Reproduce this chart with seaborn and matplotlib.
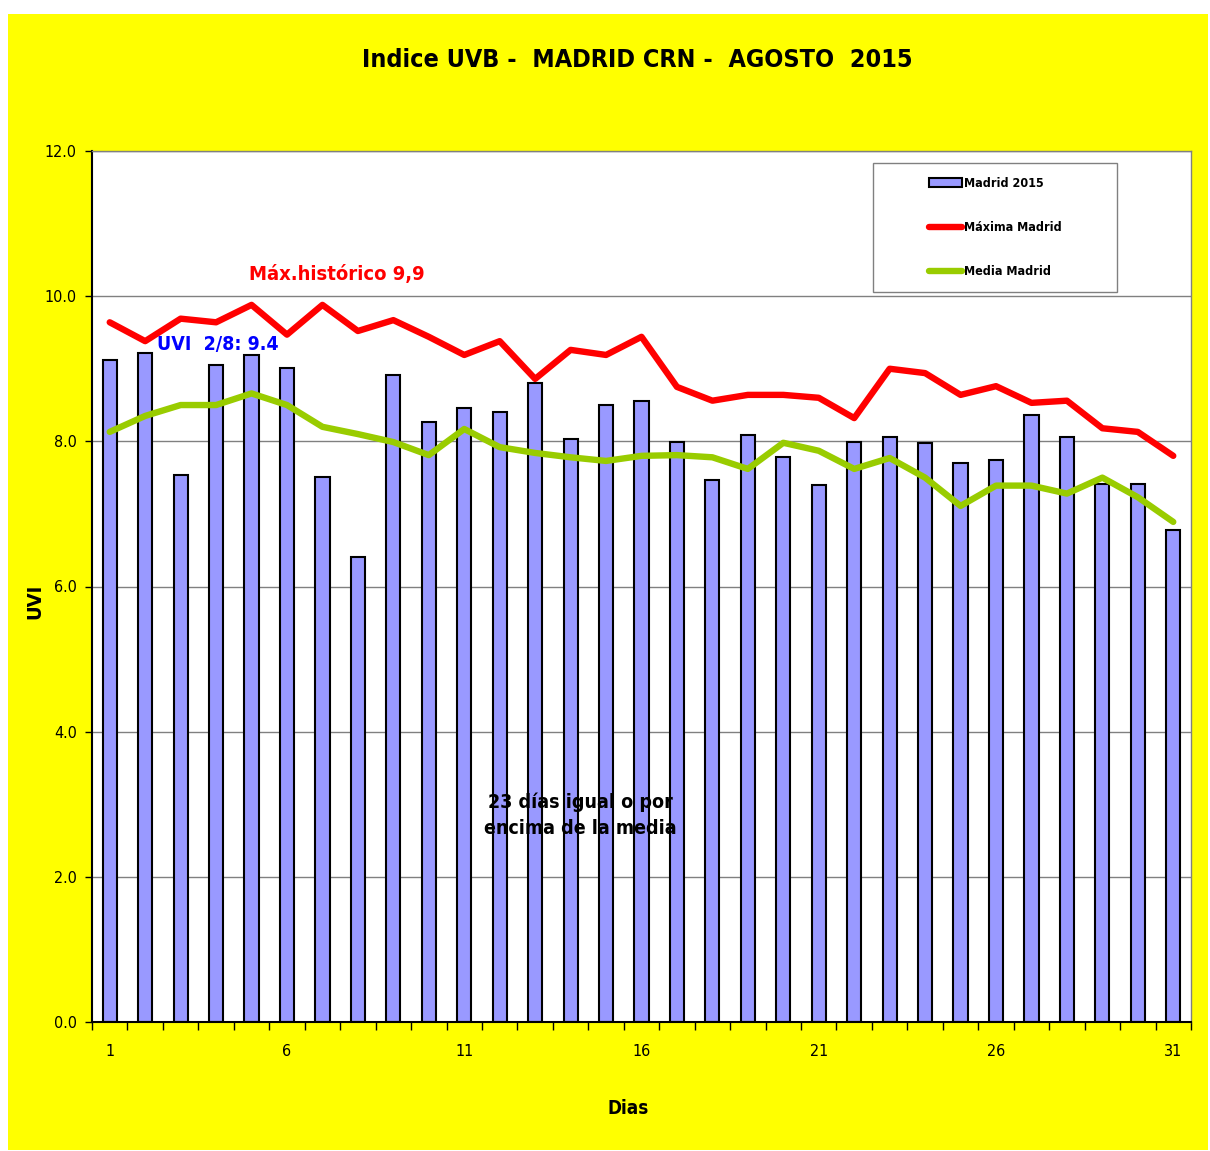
import numpy as np
import pandas as pd
import matplotlib
matplotlib.use("Agg")
import matplotlib.pyplot as plt
from matplotlib.patches import Rectangle, Patch
from matplotlib.lines import Line2D
import seaborn as sns

# ==========================
# Data
# ==========================
days = list(range(1, 32))
madrid_2015 = [9.12, 9.22, 7.54, 9.05, 9.19, 9.01, 7.51, 6.41, 8.91, 8.27,
               8.46, 8.40, 8.80, 8.03, 8.50, 8.56, 7.99, 7.47, 8.09, 7.78,
               7.40, 7.99, 8.06, 7.98, 7.70, 7.74, 8.36, 8.06, 7.41, 7.41,
               6.78]
maxima_madrid = [9.64, 9.38, 9.69, 9.64, 9.88, 9.47, 9.88, 9.52, 9.67, 9.44,
                 9.19, 9.38, 8.86, 9.26, 9.19, 9.44, 8.75, 8.56, 8.64, 8.64,
                 8.60, 8.32, 9.00, 8.94, 8.64, 8.76, 8.53, 8.56, 8.18, 8.13,
                 7.80]
media_madrid = [8.13, 8.35, 8.50, 8.50, 8.66, 8.50, 8.20, 8.10, 7.99, 7.81,
                8.17, 7.92, 7.84, 7.78, 7.73, 7.80, 7.81, 7.78, 7.62, 7.98,
                7.87, 7.62, 7.77, 7.50, 7.11, 7.39, 7.39, 7.28, 7.50, 7.23,
                6.89]
x_tick_days = [1, 6, 11, 16, 21, 26, 31]
y_ticks = [0, 2, 4, 6, 8, 10, 12]

TITLE = "Indice UVB -  MADRID CRN -  AGOSTO  2015"
BAR_COLOR = "#9999FF"
RED = "#FF0000"
GREEN = "#99CC00"
YELLOW = "#FFFF00"

df = pd.DataFrame({"dia": days, "madrid": madrid_2015,
                   "maxima": maxima_madrid, "media": media_madrid})

# ==========================
# Style
# ==========================
sns.set_style("white")
NARROW = ["Liberation Sans Narrow", "DejaVu Sans"]
plt.rcParams["font.family"] = NARROW
plt.rcParams["font.stretch"] = "condensed"
plt.rcParams["text.color"] = "black"
plt.rcParams["axes.labelcolor"] = "black"
plt.rcParams["xtick.color"] = "black"
plt.rcParams["ytick.color"] = "black"

fig = plt.figure(figsize=(12.10, 11.51), dpi=100, facecolor="white")
# yellow chart area (white margin on top/left like the original)
fig.add_artist(Rectangle((8 / 1210, 1 / 1151), 1200 / 1210, 1136 / 1151,
                         transform=fig.transFigure, facecolor=YELLOW,
                         edgecolor="none", zorder=-10))

ax = fig.add_axes([92 / 1210, 129 / 1151, 1099 / 1210, 871 / 1151])
ax.set_facecolor("white")

# bars
sns.barplot(data=df, x="dia", y="madrid", native_scale=True, width=0.4,
            color=BAR_COLOR, edgecolor="black", linewidth=1.5,
            saturation=1, ax=ax, zorder=2)

# lines
sns.lineplot(data=df, x="dia", y="maxima", color=RED, linewidth=4.6,
             ax=ax, zorder=3)
sns.lineplot(data=df, x="dia", y="media", color=GREEN, linewidth=4.6,
             ax=ax, zorder=4)

# axes limits / grid
ax.set_xlim(0.5, 31.5)
ax.set_ylim(0, 12)
ax.set_yticks(y_ticks)
ax.set_yticklabels([f"{v:.1f}" for v in y_ticks], fontsize=11.5)
ax.yaxis.grid(True, color="#808080", linewidth=1.0, zorder=0)
ax.set_axisbelow(True)

ax.set_xticks(x_tick_days)
ax.set_xticklabels([str(d) for d in x_tick_days], fontsize=11.5)
ax.set_xticks(np.arange(0.5, 32, 1.0), minor=True)
ax.tick_params(axis="x", which="major", length=0, pad=16)
ax.tick_params(axis="x", which="minor", direction="out", length=6,
               width=1, color="black", bottom=True)
ax.tick_params(axis="y", which="major", direction="out", length=5,
               width=1, color="black", left=True, pad=6)

for side in ["left", "bottom"]:
    ax.spines[side].set_color("black")
    ax.spines[side].set_linewidth(1.5)
for side in ["top", "right"]:
    ax.spines[side].set_color("#808080")
    ax.spines[side].set_linewidth(1.0)

ax.set_xlabel("Dias", fontsize=13.5, fontweight="bold")
ax.xaxis.set_label_coords((628 - 92) / 1099, -(1099 - 1022) / 871)
ax.set_ylabel("UVI", fontsize=14.5, fontweight="bold")
ax.yaxis.set_label_coords((44 - 92) / 1099, (1022 - 601) / 871)

# title
fig.text(637 / 1210, 1 - 60 / 1151, TITLE, ha="center", va="center",
         fontsize=18, fontweight="bold")

# annotations
ax.text(4.93, 10.3, "Máx.histórico 9,9", color=RED, fontsize=14.5,
        fontweight="bold", ha="left", va="center", zorder=5)
ax.text(2.33, 9.34, "UVI  2/8: 9.4", color="#0000FF", fontsize=14,
        fontweight="bold", ha="left", va="center", zorder=5)
ax.text(14.27, 2.85, "23 días igual o por\nencima de la media", color="black",
        fontsize=14, fontweight="bold", ha="center", va="center",
        linespacing=1.5, zorder=5)

# legend with its own square frame
ax.add_patch(Rectangle((0.711, 0.838), 0.222, 0.148, transform=ax.transAxes,
                       facecolor="white", edgecolor="#808080", linewidth=1.0,
                       zorder=6))
handles = [
    Patch(facecolor=BAR_COLOR, edgecolor="black", linewidth=1.5),
    Line2D([0], [0], color=RED, linewidth=4.6, solid_capstyle="round"),
    Line2D([0], [0], color=GREEN, linewidth=4.6, solid_capstyle="round"),
]
labels = ["Madrid 2015", "Máxima Madrid", "Media Madrid"]
leg = ax.legend(handles, labels, loc="center", bbox_to_anchor=(0.822, 0.912),
                frameon=False, handlelength=2.6,
                handleheight=0.7, handletextpad=0.2, labelspacing=2.5,
                prop={"weight": "bold", "size": 9})
leg.set_zorder(7)

fig.savefig("out.png", dpi=100, facecolor="white")
